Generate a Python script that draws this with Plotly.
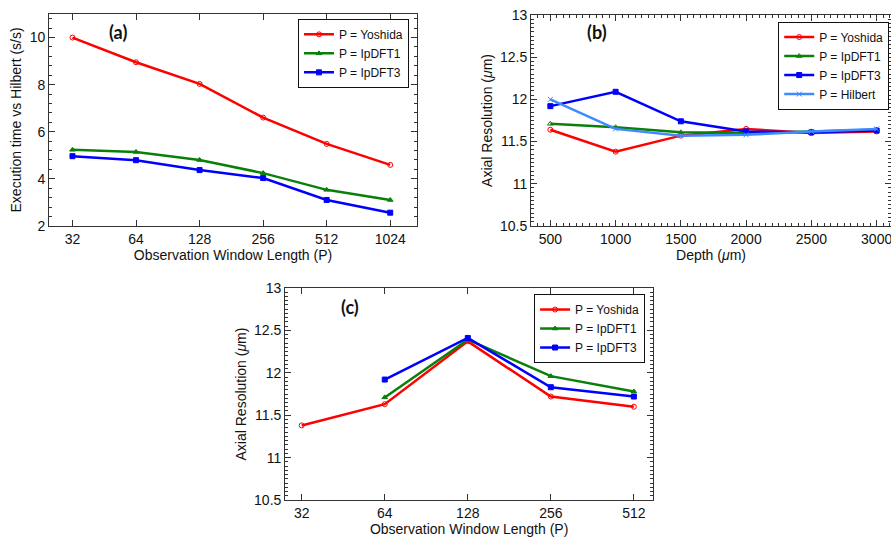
import plotly.graph_objects as go

# (a) execution time relative to Hilbert
window_a = [32, 64, 128, 256, 512, 1024]
time_yoshida = [10.0, 8.95, 8.03, 6.6, 5.48, 4.59]
time_ipdft1 = [5.23, 5.14, 4.8, 4.24, 3.53, 3.1]
time_ipdft3 = [4.96, 4.79, 4.37, 4.03, 3.1, 2.56]

# (b) axial resolution vs depth
depth = [500, 1000, 1500, 2000, 2500, 3000]
depth_yoshida = [11.64, 11.38, 11.57, 11.65, 11.60, 11.62]
depth_ipdft1 = [11.71, 11.67, 11.61, 11.60, 11.62, 11.64]
depth_ipdft3 = [11.92, 12.09, 11.74, 11.62, 11.61, 11.63]
depth_hilbert = [12.0, 11.65, 11.57, 11.58, 11.62, 11.65]

# (c) axial resolution vs window length
window_c = [32, 64, 128, 256, 512]
res_yoshida = [11.38, 11.63, 12.37, 11.72, 11.60]
res_ipdft1 = [None, 11.71, 12.39, 11.96, 11.78]
res_ipdft3 = [None, 11.92, 12.41, 11.83, 11.72]

RED = "#ff0000"
GREEN = "#0a800a"
BLUE = "#0000ff"
LIGHTBLUE = "#3d8bff"
FONT = "Liberation Sans, Arial, sans-serif"

fig = go.Figure()


def add_line(x, y, name, color, symbol, xa, ya, legend):
    fig.add_trace(go.Scatter(
        x=x, y=y, name=name, mode="lines+markers",
        line=dict(color=color, width=2.5),
        marker=dict(symbol=symbol, size=5, color=color,
                    line=dict(color=color, width=1)),
        xaxis=xa, yaxis=ya, legend=legend,
    ))


add_line(window_a, time_yoshida, "P = Yoshida", RED, "circle-open", "x", "y", "legend")
add_line(window_a, time_ipdft1, "P = IpDFT1", GREEN, "triangle-up", "x", "y", "legend")
add_line(window_a, time_ipdft3, "P = IpDFT3", BLUE, "square", "x", "y", "legend")

add_line(depth, depth_yoshida, "P = Yoshida", RED, "circle-open", "x2", "y2", "legend2")
add_line(depth, depth_ipdft1, "P = IpDFT1", GREEN, "triangle-up-open", "x2", "y2", "legend2")
add_line(depth, depth_ipdft3, "P = IpDFT3", BLUE, "square", "x2", "y2", "legend2")
add_line(depth, depth_hilbert, "P = Hilbert", LIGHTBLUE, "x-thin-open", "x2", "y2", "legend2")

add_line(window_c, res_yoshida, "P = Yoshida", RED, "circle-open", "x3", "y3", "legend3")
add_line(window_c, res_ipdft1, "P = IpDFT1", GREEN, "triangle-up", "x3", "y3", "legend3")
add_line(window_c, res_ipdft3, "P = IpDFT3", BLUE, "square", "x3", "y3", "legend3")

axis_style = dict(
    showline=True, linecolor="#333333", linewidth=1, mirror="ticks",
    ticks="inside", ticklen=6, tickcolor="#333333", showgrid=False,
    zeroline=False, automargin=False, ticklabeloverflow="allow",
    tickfont=dict(size=14, color="#111111"),
    title_font=dict(size=14, color="#111111"),
)
minor_y = dict(ticks="inside", ticklen=3, tickcolor="#333333", showgrid=False)

legend_style = dict(
    bgcolor="white", bordercolor="#111111", borderwidth=1,
    font=dict(size=12, color="#111111"), xanchor="right", yanchor="top",
    tracegroupgap=0, itemwidth=30,
)

fig.update_layout(
    width=891, height=539,
    margin=dict(l=0, r=0, t=0, b=0),
    paper_bgcolor="white", plot_bgcolor="white",
    font=dict(family=FONT, color="#111111"),
    xaxis=dict(axis_style, domain=[0.055, 0.468], anchor="y", type="log",
               range=[1.394, 3.137], tickvals=window_a, ticktext=[str(v) for v in window_a],
               title=dict(text="Observation Window Length (P)", standoff=2)),
    yaxis=dict(axis_style, domain=[0.581, 0.974], anchor="x", range=[2, 11],
               dtick=2, minor=dict(minor_y, dtick=0.4),
               title=dict(text="Execution time vs Hilbert (s/s)", standoff=4)),
    xaxis2=dict(axis_style, domain=[0.596, 1.0], anchor="y2", range=[352, 3110],
                tickvals=depth, minor=dict(minor_y, dtick=50),
                title=dict(text="Depth (<i>μ</i>m)", standoff=2)),
    yaxis2=dict(axis_style, domain=[0.581, 0.972], anchor="x2", range=[10.5, 13],
                dtick=0.5, minor=dict(minor_y, dtick=0.05),
                title=dict(text="Axial Resolution (<i>μ</i>m)", standoff=4)),
    xaxis3=dict(axis_style, domain=[0.320, 0.733], anchor="y3", type="log",
                range=[1.445, 2.779], tickvals=window_c, ticktext=[str(v) for v in window_c],
                title=dict(text="Observation Window Length (P)", standoff=2)),
    yaxis3=dict(axis_style, domain=[0.072, 0.466], anchor="x3", range=[10.5, 13],
                dtick=0.5, minor=dict(minor_y, dtick=0.05),
                title=dict(text="Axial Resolution (<i>μ</i>m)", standoff=4)),
    legend=dict(legend_style, x=0.459, y=0.965),
    legend2=dict(legend_style, x=0.998, y=0.96),
    legend3=dict(legend_style, x=0.724, y=0.4545),
)

panel_labels = [("(a)", "x domain", "y domain", 0.1875, 0.915),
                ("(b)", "x2 domain", "y2 domain", 0.183, 0.919),
                ("(c)", "x3 domain", "y3 domain", 0.177, 0.912)]
for text, xr, yr, px, py in panel_labels:
    fig.add_annotation(text="<b>" + text + "</b>", xref=xr, yref=yr, x=px, y=py,
                       xanchor="center", yanchor="middle", showarrow=False,
                       font=dict(family="Lato, sans-serif", size=18, color="#111111"))

# drop the default page margin so the figure sits at the window's corner
fig.write_html("out.html", config={"displayModeBar": False},
               post_script="document.body.style.margin='0';")
